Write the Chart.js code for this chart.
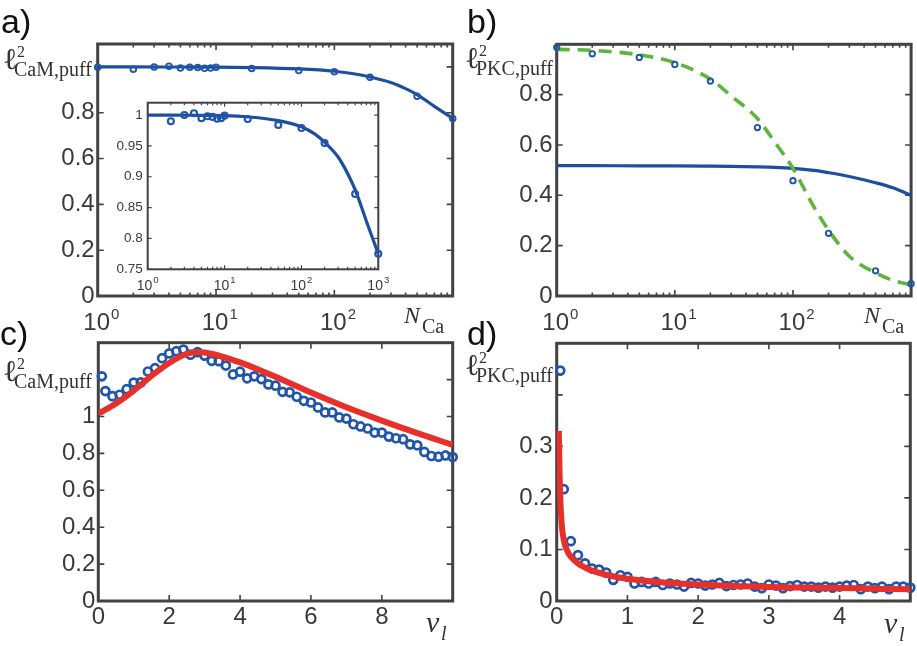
<!DOCTYPE html>
<html><head><meta charset="utf-8">
<script src="https://cdn.jsdelivr.net/npm/chart.js"></script>
<style>
html,body{margin:0;padding:0;background:#fff;}
#wrap{position:relative;width:917px;height:646px;overflow:hidden;background:#fff;}
canvas{position:absolute;left:0;top:0;}
.t{position:absolute;white-space:nowrap;margin:0;padding:0;}
</style></head><body><div id="wrap">
<canvas id="ca" width="917" height="646"></canvas>
<canvas id="cb" width="917" height="646"></canvas>
<canvas id="cc" width="917" height="646"></canvas>
<canvas id="cd" width="917" height="646"></canvas>
<canvas id="ci" width="917" height="646"></canvas>
</div>
<script>
// ---------- data ----------
// panel a (and inset): l^2 CaM,puff vs N_Ca
const nCaA = [1,2,3,4,5,6,7,8,9,10,20,50,100,200,500,1000];
const camPuffSimA = [0.998,0.990,1.000,1.003,0.995,0.998,0.997,0.994,0.995,0.999,0.9935,0.984,0.979,0.9545,0.872,0.775];
const nCaFitA = [1,2,5,10,20,50,100,150,200,300,400,500,700,1000];
const camPuffFitA = [1.000,1.000,0.9995,0.999,0.997,0.991,0.981,0.969,0.956,0.932,0.905,0.879,0.828,0.775];
// panel b: l^2 PKC,puff vs N_Ca
const nCaB = [1,2,5,10,20,50,100,200,500,1000];
const pkcPuffSimB = [0.988,0.962,0.948,0.920,0.854,0.669,0.458,0.249,0.100,0.049];
const nCaFitB = [1,2,5,10,20,30,50,70,100,150,200,300,500,700,1000];
const pkcPuffDashB = [0.980,0.976,0.958,0.927,0.862,0.795,0.705,0.612,0.507,0.355,0.262,0.158,0.092,0.062,0.044];
const pkcPuffSolidB = [0.518,0.518,0.517,0.517,0.516,0.515,0.513,0.511,0.507,0.499,0.490,0.475,0.450,0.430,0.400];
// panel c: l^2 CaM,puff vs nu_l
const nuC = [0.1,0.2,0.4,0.6,0.8,1.0,1.2,1.4,1.6,1.8,2.0,2.2,2.4,2.6,2.8,3.0,3.2,3.4,3.6,3.8,4.0,4.2,4.4,4.6,4.8,5.0,5.2,5.4,5.6,5.8,6.0,6.2,6.4,6.6,6.8,7.0,7.2,7.4,7.6,7.8,8.0,8.2,8.4,8.6,8.8,9.0,9.2,9.4,9.6,9.8,10.0];
const camNuSimC = [1.218,1.138,1.110,1.118,1.148,1.184,1.185,1.244,1.262,1.316,1.342,1.354,1.363,1.335,1.349,1.330,1.302,1.300,1.276,1.228,1.243,1.207,1.218,1.203,1.174,1.167,1.134,1.131,1.107,1.085,1.076,1.049,1.022,1.022,0.995,0.989,0.958,0.946,0.935,0.913,0.913,0.891,0.882,0.877,0.849,0.844,0.808,0.786,0.782,0.789,0.780];
const nuFitC = [0,0.5,1,1.5,2,2.5,2.8,3,3.5,4,4.5,5,6,7,8,9,10];
const camNuFitC = [1.015,1.070,1.140,1.220,1.290,1.340,1.350,1.347,1.325,1.293,1.256,1.215,1.130,1.050,0.978,0.910,0.846];
// panel d: l^2 PKC,puff vs nu_l
const nuD = [0.05,0.1,0.2,0.3,0.4,0.5,0.6,0.7,0.8,0.9,1.0,1.1,1.2,1.3,1.4,1.5,1.6,1.7,1.8,1.9,2.0,2.1,2.2,2.3,2.4,2.5,2.6,2.7,2.8,2.9,3.0,3.1,3.2,3.3,3.4,3.5,3.6,3.7,3.8,3.9,4.0,4.1,4.2,4.3,4.4,4.5,4.6,4.7,4.8,4.9,5.0];
const pkcNuSimD = [0.447,0.217,0.116,0.089,0.073,0.063,0.061,0.055,0.041,0.050,0.047,0.034,0.037,0.034,0.037,0.031,0.034,0.032,0.028,0.035,0.034,0.030,0.032,0.035,0.029,0.031,0.032,0.034,0.028,0.025,0.032,0.030,0.025,0.029,0.031,0.028,0.028,0.026,0.028,0.026,0.028,0.030,0.031,0.023,0.028,0.025,0.028,0.023,0.028,0.028,0.026];
const nuFitD = [0.03,0.04,0.05,0.07,0.1,0.15,0.2,0.3,0.4,0.5,0.7,1,1.5,2,2.5,3,3.5,4,4.5,5];
const pkcNuFitD = [0.330,0.250,0.200,0.150,0.118,0.097,0.086,0.073,0.065,0.059,0.051,0.043,0.036,0.032,0.029,0.027,0.026,0.025,0.024,0.023];
// tick labels / tick values
const yTicksA = [0,0.2,0.4,0.6,0.8,1.0];
const yTicksB = [0,0.2,0.4,0.6,0.8];
const yTicksC = [0,0.2,0.4,0.6,0.8,1.0,1.2];
const yTicksD = [0,0.1,0.2,0.3,0.4];
const yTicksInset = [0.75,0.8,0.85,0.9,0.95,1];
const xTicksC = [0,2,4,6,8];
const xTicksD = [0,1,2,3,4];
const decadeTicks = [1,10,100,1000];
const decadeLabelsMain = [1,10,100];

// ---------- style ----------
const SANS = '"Liberation Sans", Arial, sans-serif';
const SERIF = '"Liberation Serif", "DejaVu Serif", serif';
const AX = '#424242', TXT = '#3a3a3a';
const BLUE = '#1f55ab', BLUEL = '#1c4f9f', RED = '#e8302a', GREEN = '#5cb53c';

const pts = (xs, ys) => xs.map((x, i) => ({x, y: ys[i]}));
const fmt = v => String(Math.round(v * 1000) / 1000);

const framePlugin = {
  id: 'frame',
  beforeDatasetsDraw(chart, args, o) {
    const {ctx, chartArea: a, scales} = chart;
    const xs = scales.x, ys = scales.y;
    ctx.save();
    ctx.strokeStyle = o.color; ctx.lineWidth = o.tickWidth;
    ctx.beginPath();
    const xt = (v, len) => { const p = xs.getPixelForValue(v);
      ctx.moveTo(p, a.bottom); ctx.lineTo(p, a.bottom - len);
      ctx.moveTo(p, a.top); ctx.lineTo(p, a.top + len); };
    const yt = (v, len) => { const p = ys.getPixelForValue(v);
      ctx.moveTo(a.left, p); ctx.lineTo(a.left + len, p);
      ctx.moveTo(a.right, p); ctx.lineTo(a.right - len, p); };
    o.xMajor.forEach(v => xt(v, o.major));
    o.yMajor.forEach(v => yt(v, o.major));
    if (o.logX) {
      for (let d = 1; d < xs.max; d *= 10)
        for (let m = 2; m <= 9; m++) if (d * m < xs.max) xt(d * m, o.minor);
    }
    ctx.stroke();
    ctx.lineWidth = o.boxWidth;
    ctx.strokeRect(a.left, a.top, a.right - a.left, a.bottom - a.top);
    ctx.restore();
  },
  beforeDraw(chart, args, o) {
    if (!o.fill) return;
    const {ctx, chartArea: a} = chart;
    ctx.save(); ctx.fillStyle = '#fff';
    ctx.fillRect(a.left, a.top, a.right - a.left, a.bottom - a.top);
    ctx.restore();
  },
  afterDraw(chart, args, o) {
    const L = o.logLabels; if (!L) return;
    const {ctx, chartArea: a, scales} = chart;
    ctx.save(); ctx.fillStyle = TXT; ctx.textBaseline = 'alphabetic'; ctx.textAlign = 'left';
    L.values.forEach(v => {
      const px = scales.x.getPixelForValue(v);
      const e = String(Math.round(Math.log10(v)));
      ctx.font = L.size + 'px ' + SANS; const w1 = ctx.measureText('10').width;
      ctx.font = L.supSize + 'px ' + SANS; const w2 = ctx.measureText(e).width;
      const x0 = L.whole ? px - (w1 + L.gap + w2) / 2 : px - w1 / 2 + L.shift;
      const base = a.bottom + L.offset;
      ctx.font = L.size + 'px ' + SANS; ctx.fillText('10', x0, base);
      ctx.font = L.supSize + 'px ' + SANS; ctx.fillText(e, x0 + w1 + L.gap, base - L.supRise);
    });
    ctx.restore();
  }
};

function build(id, box, c) {
  const padding = {left: box.L - 40, top: box.T, right: 917 - box.R, bottom: 646 - box.B - 30};
  return new Chart(document.getElementById(id), {
    type: 'scatter',
    data: {datasets: c.datasets},
    options: {
      responsive: false, animation: false, devicePixelRatio: 1, events: [],
      layout: {padding},
      plugins: {legend: {display: false}, tooltip: {enabled: false}, frame: c.frame},
      scales: {
        x: {type: c.xType, min: c.xMin, max: c.xMax,
          grid: {display: false, drawTicks: false}, border: {display: false},
          ticks: {display: c.xLabels, font: {family: SANS, size: c.fs}, color: TXT, padding: c.xPad,
            maxRotation: 0, autoSkip: false, callback: v => fmt(v)},
          afterBuildTicks: s => { s.ticks = c.xTicks.map(v => ({value: v})); },
          afterFit: s => { s.height = 30; s.paddingLeft = 0; s.paddingRight = 0; }},
        y: {type: 'linear', min: c.yMin, max: c.yMax,
          grid: {display: false, drawTicks: false}, border: {display: false},
          ticks: {font: {family: SANS, size: c.yfs || c.fs}, color: TXT, padding: c.yPad, autoSkip: false,
            callback: v => (c.yHide.includes(v) ? '' : fmt(v))},
          afterBuildTicks: s => { s.ticks = c.yTicks.map(v => ({value: v})); },
          afterFit: s => { s.width = 40; s.paddingTop = 0; s.paddingBottom = 0; }}
      }
    },
    plugins: [framePlugin]
  });
}

const mainLog = {values: decadeLabelsMain, size: 24, supSize: 15, gap: 1, supRise: 11, offset: 34, shift: -1, whole: false};

// panel a
build('ca', {L: 97.7, T: 44, R: 452.7, B: 296}, {
  xType: 'logarithmic', xMin: 1, xMax: 1000, xTicks: decadeTicks, xLabels: false, xPad: 2,
  yMin: 0, yMax: 1.1, yTicks: yTicksA, yHide: [1], fs: 24, yPad: 3,
  frame: {color: AX, tickWidth: 1.6, boxWidth: 3, major: 6, minor: 3.5, xMajor: decadeTicks, yMajor: yTicksA, logX: true, logLabels: mainLog},
  datasets: [
    {data: pts(nCaA, camPuffSimA), pointRadius: 2.8, pointBorderWidth: 1.9, pointBorderColor: BLUE, pointBackgroundColor: 'rgba(255,255,255,0)', clip: false},
    {data: pts(nCaFitA, camPuffFitA), showLine: true, pointRadius: 0, borderColor: BLUEL, borderWidth: 3.2, cubicInterpolationMode: 'monotone'}
  ]
});

// panel b
build('cb', {L: 556.7, T: 44.3, R: 911.7, B: 296}, {
  xType: 'logarithmic', xMin: 1, xMax: 1000, xTicks: decadeTicks, xLabels: false, xPad: 2,
  yMin: 0, yMax: 1.0, yTicks: yTicksB, yHide: [], fs: 24, yPad: 4,
  frame: {color: AX, tickWidth: 1.6, boxWidth: 3, major: 6, minor: 3.5, xMajor: decadeTicks, yMajor: yTicksB, logX: true, logLabels: mainLog},
  datasets: [
    {data: pts(nCaB, pkcPuffSimB), pointRadius: 2.7, pointBorderWidth: 1.9, pointBorderColor: BLUE, pointBackgroundColor: 'rgba(255,255,255,0)', clip: false},
    {data: pts(nCaFitB, pkcPuffDashB), showLine: true, pointRadius: 0, borderColor: GREEN, borderWidth: 3.6, borderDash: [13, 8], cubicInterpolationMode: 'monotone'},
    {data: pts(nCaFitB, pkcPuffSolidB), showLine: true, pointRadius: 0, borderColor: BLUEL, borderWidth: 3.2, cubicInterpolationMode: 'monotone'}
  ]
});

// panel c
build('cc', {L: 98.3, T: 342.7, R: 452.7, B: 601}, {
  xType: 'linear', xMin: 0, xMax: 10, xTicks: xTicksC, xLabels: true, xPad: 2,
  yMin: 0, yMax: 1.4, yTicks: yTicksC, yHide: [1.2], fs: 24, yPad: 3,
  frame: {color: AX, tickWidth: 1.6, boxWidth: 3, major: 6, minor: 3, xMajor: xTicksC, yMajor: yTicksC, logX: false},
  datasets: [
    {data: pts(nuFitC, camNuFitC), showLine: true, pointRadius: 0, borderColor: RED, borderWidth: 6, cubicInterpolationMode: 'monotone'},
    {data: pts(nuC, camNuSimC), pointRadius: 4, pointBorderWidth: 2.7, pointBorderColor: BLUE, pointBackgroundColor: 'rgba(255,255,255,0)', clip: false}
  ]
});

// panel d
build('cd', {L: 556.7, T: 343.3, R: 911.7, B: 601}, {
  xType: 'linear', xMin: 0, xMax: 5, xTicks: xTicksD, xLabels: true, xPad: 2,
  yMin: 0, yMax: 0.5, yTicks: yTicksD, yHide: [0.4], fs: 24, yPad: 4,
  frame: {color: AX, tickWidth: 1.6, boxWidth: 3, major: 6, minor: 3, xMajor: xTicksD, yMajor: yTicksD, logX: false},
  datasets: [
    {data: pts(nuFitD, pkcNuFitD), showLine: true, pointRadius: 0, borderColor: RED, borderWidth: 6, cubicInterpolationMode: 'monotone'},
    {data: pts(nuD, pkcNuSimD), pointRadius: 4, pointBorderWidth: 2.7, pointBorderColor: BLUE, pointBackgroundColor: 'rgba(255,255,255,0)', clip: false}
  ]
});

// inset of panel a
build('ci', {L: 147.7, T: 102.7, R: 378.3, B: 269.3}, {
  xType: 'logarithmic', xMin: 1, xMax: 1000, xTicks: decadeTicks, xLabels: false, xPad: 2,
  yMin: 0.75, yMax: 1.02, yTicks: yTicksInset, yHide: [], fs: 14, yfs: 13.5, yPad: 5,
  frame: {fill: true, color: AX, tickWidth: 1.2, boxWidth: 2, major: 4, minor: 2.5, xMajor: decadeTicks, yMajor: yTicksInset, logX: true,
    logLabels: {values: decadeTicks, size: 14, supSize: 9.5, gap: 1, supRise: 7, offset: 21, shift: 0, whole: true}},
  datasets: [
    {data: pts(nCaA, camPuffSimA).filter(p => p.x > 1), pointRadius: 3, pointBorderWidth: 2.1, pointBorderColor: BLUE, pointBackgroundColor: 'rgba(255,255,255,0)', clip: false},
    {data: pts(nCaFitA, camPuffFitA), showLine: true, pointRadius: 0, borderColor: BLUEL, borderWidth: 3.2, cubicInterpolationMode: 'monotone'}
  ]
});

// ---------- annotation text ----------
const wrap = document.getElementById('wrap');
function put(str, x, base, size, fam, italic, color) {
  const k = fam === SERIF ? 0.8375 : 0.8465;
  const d = document.createElement('div');
  d.className = 't'; d.textContent = str;
  d.style.font = (italic ? 'italic ' : '') + size + 'px ' + fam;
  d.style.lineHeight = size + 'px';
  d.style.color = color || '#222';
  d.style.left = x + 'px'; d.style.top = (base - k * size) + 'px';
  wrap.appendChild(d);
}
// panel letters
put('a)', 1, 33, 34, SANS, false, '#111');
put('b)', 467, 33, 34, SANS, false, '#111');
put('c)', 0, 345, 34, SANS, false, '#111');
put('d)', 467, 345, 34, SANS, false, '#111');
// y labels
function ell(x, base, sub) {
  put('\u2113', x - 1, base, 30, SERIF, false, '#333');
  put('2', x + 13, base - 12, 16, SERIF, false, '#333');
  put(sub, x + 10, base + 7, 20, SERIF, false, '#333');
}
ell(4, 69, 'CaM,puff');
ell(466, 68, 'PKC,puff');
ell(4, 381, 'CaM,puff');
ell(466, 375, 'PKC,puff');
// x labels
function nca(x, base) { put('N', x, base, 24, SERIF, true, '#333'); put('Ca', x + 18, base + 10, 20, SERIF, false, '#333'); }
nca(404, 323); nca(864, 323);
function nul(x, base) { put('\u03BD', x, base, 30, SERIF, true, '#333'); put('l', x + 15, base + 8, 20, SERIF, true, '#333'); }
nul(426, 632); nul(884, 633);
</script>
</body></html>
